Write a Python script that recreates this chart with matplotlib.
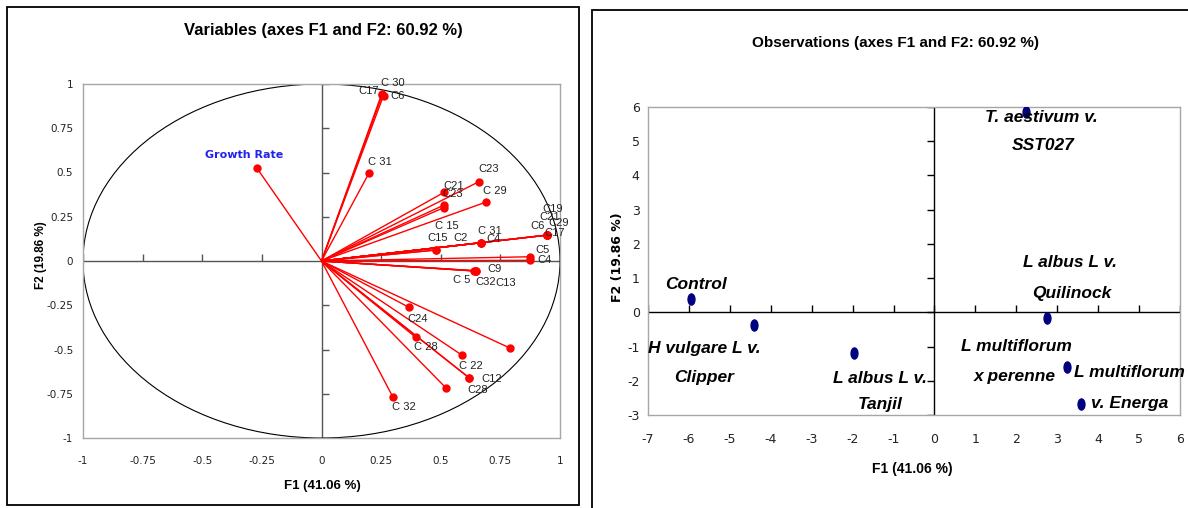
import matplotlib
matplotlib.use("Agg")
import matplotlib.pyplot as plt
import numpy as np
from matplotlib.patches import Circle, Rectangle
from matplotlib.path import Path

plt.rcParams["axes.unicode_minus"] = False

# ---------------- data ----------------
# Variables (correlation circle): label shown, F1, F2
var_names = ["Growth Rate", "C 30", "C17", "C6", "C 31", "C23", "C21", "C23", "",
             "C 29", "C 15", "C15", "C2", "C 31", "C4", "C19", "C21", "C29", "C6",
             "C17", "C5", "C4", "C9", "C 5", "C32", "C13", "C24", "C 28", "",
             "C 22", "C12", "C28", "", "C 32"]
var_f1 = [-0.272, 0.255, 0.252, 0.260, 0.200, 0.660, 0.514, 0.514, 0.514,
          0.688, 0.480, 0.480, 0.667, 0.667, 0.667, 0.944, 0.944, 0.944, 0.944,
          0.944, 0.874, 0.874, 0.644, 0.640, 0.648, 0.648, 0.367, 0.395, 0.792,
          0.590, 0.618, 0.618, 0.521, 0.299]
var_f2 = [0.527, 0.938, 0.942, 0.934, 0.499, 0.448, 0.388, 0.316, 0.302,
          0.332, 0.062, 0.062, 0.103, 0.103, 0.103, 0.146, 0.146, 0.146, 0.146,
          0.146, 0.024, 0.004, -0.055, -0.055, -0.057, -0.057, -0.262, -0.431, -0.493,
          -0.533, -0.659, -0.659, -0.716, -0.768]

# Observations
obs_line1 = ["T. aestivum v.", "Control", "H vulgare L v.", "L albus L v.",
             "L albus L v.", "L multiflorum", "L multiflorum"]
obs_line2 = ["SST027", "", "Clipper", "Tanjil", "Quilinock", "x perenne", "v. Energa"]
obs_f1 = [2.23, -5.95, -4.42, -1.97, 2.76, 3.23, 3.57]
obs_f2 = [5.84, 0.38, -0.37, -1.18, -0.18, -1.59, -2.68]

left_ticks = [-1, -0.75, -0.5, -0.25, 0, 0.25, 0.5, 0.75, 1]
left_tick_labels = ["-1", "-0.75", "-0.5", "-0.25", "0", "0.25", "0.5", "0.75", "1"]
right_xticks = [-7, -6, -5, -4, -3, -2, -1, 0, 1, 2, 3, 4, 5, 6]
right_yticks = [-3, -2, -1, 0, 1, 2, 3, 4, 5, 6]

# ---------------- layout (pixel offsets of labels) ----------------
var_label_offsets = [(-13, 13), (10, 12), (-13, 3), (14, 0), (11, 11), (10, 13),
                     (10, 6), (9, 11), None, (9, 11), (11, 24), (2, 12), (-20, 5),
                     (9, 12), (13, 4), (6, 26), (3, 18.5), (12, 12), (-9, 9), (8, 2),
                     (13, 7), (15, 0.5), (19, 2), (-12, -9), (10, -11), (30, -12),
                     (9, -12), (10, -10), None, (9, -11), (23, -1), (9, -12), None,
                     (11, -10)]
obs_off1 = [(16, -5), (5, 15), (-49, -24), (26, -26), (23, 56), (-50, 20), (49, 32)]
obs_off2 = [(17, -33), None, (-49, -53), (26, -52), (24, 25), (-52, -10), (49, 1)]

W, H = 1188, 508
SANS = "Liberation Sans"


def fx(px):
    return px / W


def fy(py):
    return 1 - py / H


fig = plt.figure(figsize=(W / 100, H / 100), dpi=100)

# panel borders
fig.add_artist(Rectangle((fx(7), fy(505)), fx(579) - fx(7), fy(7) - fy(505),
                         transform=fig.transFigure, fill=False, ec="black", lw=1.3))
fig.add_artist(Rectangle((fx(592), fy(520)), fx(1200) - fx(592), fy(10) - fy(520),
                         transform=fig.transFigure, fill=False, ec="black", lw=1.3))

# ---------------- left panel ----------------
ax1 = fig.add_axes([fx(83), fy(438), fx(560) - fx(83), fy(84) - fy(438)])
ax1.set_xlim(-1, 1)
ax1.set_ylim(-1, 1)
for s in ax1.spines.values():
    s.set_color("#a6a6a6")
    s.set_linewidth(1)
ax1.set_xticks(left_ticks)
ax1.set_xticklabels(left_tick_labels)
ax1.set_yticks(left_ticks)
ax1.set_yticklabels(left_tick_labels)
ax1.tick_params(axis="x", length=0, pad=13, labelsize=7.5, labelcolor="#222222")
ax1.tick_params(axis="y", length=0, pad=7, labelsize=7.5, labelcolor="#222222")

ax1.axhline(0, color="#555555", lw=1, zorder=1)
ax1.axvline(0, color="#555555", lw=1, zorder=1)
ax1.plot(left_ticks, [0] * len(left_ticks), ls="none", marker=2, ms=5,
         mew=1, color="#555555", zorder=1)
ax1.plot([0] * len(left_ticks), left_ticks, ls="none", marker=1, ms=5,
         mew=1, color="#555555", zorder=1)
ax1.add_patch(Circle((0, 0), 1, fill=False, ec="black", lw=0.8, zorder=1.5))

for i, (n, x, y) in enumerate(zip(var_names, var_f1, var_f2)):
    ax1.plot([0, x], [0, y], color="red", lw=1, zorder=2, solid_capstyle="butt")
ax1.plot(var_f1, var_f2, ls="none", marker="o", ms=5, color="red", zorder=3)

for i, (n, x, y) in enumerate(zip(var_names, var_f1, var_f2)):
    off = var_label_offsets[i]
    if not n or off is None:
        continue
    if i == 0:
        ax1.annotate(n, (x, y), xytext=off, textcoords="offset pixels",
                     ha="center", va="center", fontsize=8, fontweight="bold",
                     color="#2222ee", family="DejaVu Sans", zorder=4)
    else:
        ax1.annotate(n, (x, y), xytext=off, textcoords="offset pixels",
                     ha="center", va="center", fontsize=8, color="#222222",
                     family=SANS, zorder=4)

fig.text(fx(323), fy(30), "Variables (axes F1 and F2: 60.92 %)", ha="center",
         va="center", fontsize=12, fontweight="bold", family=SANS)
fig.text(fx(322), fy(486), "F1 (41.06 %)", ha="center", va="center",
         fontsize=9.5, fontweight="bold", family=SANS)
fig.text(fx(41), fy(255), "F2 (19.86 %)", ha="center", va="center",
         rotation=90, fontsize=8.5, fontweight="bold", family=SANS)

# ---------------- right panel ----------------
ax2 = fig.add_axes([fx(648), fy(415), fx(1180) - fx(648), fy(107) - fy(415)])
ax2.set_xlim(-7, 6)
ax2.set_ylim(-3, 6)
for s in ax2.spines.values():
    s.set_color("#a6a6a6")
    s.set_linewidth(1)
ax2.set_xticks(right_xticks)
ax2.set_yticks(right_yticks)
ax2.tick_params(axis="x", length=0, pad=13, labelsize=9, labelcolor="#222222")
ax2.tick_params(axis="y", length=0, pad=6, labelsize=9, labelcolor="#222222")

ax2.axhline(0, color="black", lw=1, zorder=1)
ax2.axvline(0, color="black", lw=1, zorder=1)
ax2.plot(right_xticks, [0] * len(right_xticks), ls="none", marker=2, ms=5,
         mew=1, color="black", zorder=1)
ax2.plot([0] * len(right_yticks), right_yticks, ls="none", marker=0, ms=5,
         mew=1, color="black", zorder=1)

circ = Path.unit_circle()
ell = Path(circ.vertices * np.array([0.62, 1.0]), circ.codes)
ax2.plot(obs_f1, obs_f2, ls="none", marker=ell, ms=8, color="#000080", zorder=3)

for i, (x, y) in enumerate(zip(obs_f1, obs_f2)):
    ax2.annotate(obs_line1[i], (x, y), xytext=obs_off1[i], textcoords="offset pixels",
                 ha="center", va="center", fontsize=12.5, fontweight="bold",
                 fontstyle="italic", family=SANS, zorder=4, annotation_clip=False)
    if obs_line2[i]:
        ax2.annotate(obs_line2[i], (x, y), xytext=obs_off2[i], textcoords="offset pixels",
                     ha="center", va="center", fontsize=12.5, fontweight="bold",
                     fontstyle="italic", family=SANS, zorder=4, annotation_clip=False)

fig.text(fx(896), fy(43), "Observations (axes F1 and F2: 60.92 %)", ha="center",
         va="center", fontsize=11, fontweight="bold", family=SANS)
fig.text(fx(912), fy(469), "F1 (41.06 %)", ha="center", va="center",
         fontsize=10, fontweight="bold", family=SANS)
fig.text(fx(618), fy(257), "F2 (19.86 %)", ha="center", va="center",
         rotation=90, fontsize=9, fontweight="bold", family="DejaVu Sans")

fig.savefig("out.png", dpi=100)
